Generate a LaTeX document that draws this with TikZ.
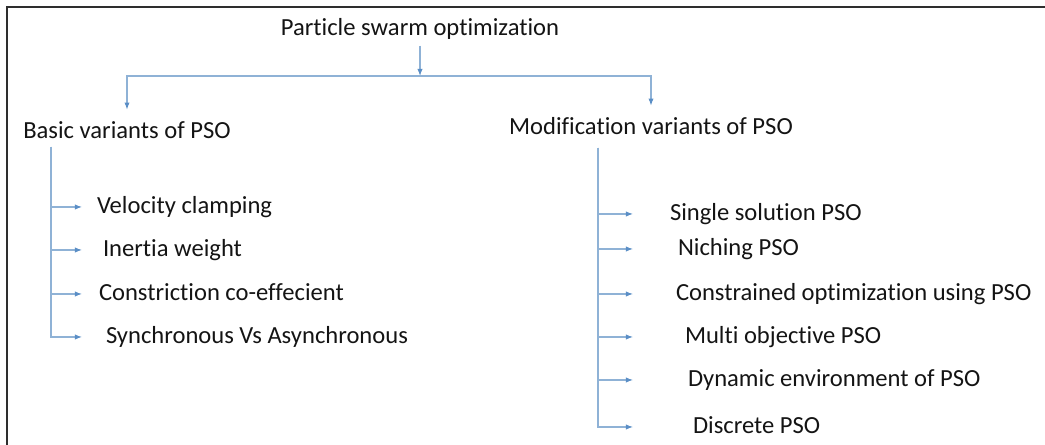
\documentclass[tikz,border=0pt]{standalone}
\usepackage{fontspec}
\setmainfont{Carlito}[Ligatures={NoCommon}]
\usepackage{xcolor}
\usepackage{tikz}
\usetikzlibrary{arrows.meta,positioning}
\definecolor{ink}{HTML}{141414}
\definecolor{wire}{HTML}{8FB2D6}
\definecolor{tipblue}{HTML}{5A8EC6}
\definecolor{frameline}{HTML}{2E2E2E}
\newlength{\pxu}
\setlength{\pxu}{0.02cm}
\tikzset{
  >={Latex[length=4pt,width=3pt,color=tipblue]},
  label/.style={
    text=ink, inner sep=0pt, outer sep=0pt, text height=10pt, text depth=3pt,
    font=\fontsize{14}{17}\selectfont
  },
  head/.style={label, anchor=center},
  item/.style={label, anchor=west},
  flow/.style={->, line width=0.6pt, draw=wire},
  drop/.style={flow, shorten >=0.22cm},
  border/.style={line width=1.1pt, draw=frameline}
}
\newcommand{\lead}[1]{\hspace*{#1\pxu}}

\begin{document}
\begin{tikzpicture}[x=0.02cm,y=-0.02cm]
  \useasboundingbox (0,0) rectangle (1045,445);
  \draw[border] (1045,7) -- (7,7) -- (7,445);

  \node[head] (root)  at (420,29)  {Particle swarm optimization};
  \node[head] (basic) at (127,132) {Basic variants of PSO};
  \node[head] (modif) at (651,128) {Modification variants of PSO};

  \coordinate (split) at (420,76);
  \coordinate (btop)  at (51,147);
  \coordinate (mtop)  at (598,148);

  % basic variants
  \node[item] (b1) at (82,207) {\lead{15}Velocity clamping};
  \node[item] (b2) at (82,250) {\lead{21}Inertia weight};
  \node[item] (b3) at (82,294) {\lead{17}Constriction co-effecient};
  \node[item] (b4) at (82,337) {\lead{24}Synchronous Vs Asynchronous};

  % modification variants
  \node[item] (m1) at (633,214) {\lead{37}Single solution PSO};
  \node[item] (m2) at (633,249) {\lead{45}Niching PSO};
  \node[item] (m3) at (633,294) {\lead{43}Constrained optimization using PSO};
  \node[item] (m4) at (633,337) {\lead{52}Multi objective PSO};
  \node[item] (m5) at (633,380) {\lead{55}Dynamic environment of PSO};
  \node[item] (m6) at (633,427) {\lead{60}Discrete PSO};

  \draw[flow, shorten <=3pt] (root) -- (split);
  \draw[drop] (split) -| (basic);
  \draw[drop] (split) -| (modif);

  \draw[flow] (btop) |- (b1);
  \draw[flow] (btop) |- (b2);
  \draw[flow] (btop) |- (b3);
  \draw[flow] (btop) |- (b4);

  \draw[flow] (mtop) |- (m1);
  \draw[flow] (mtop) |- (m2);
  \draw[flow] (mtop) |- (m3);
  \draw[flow] (mtop) |- (m4);
  \draw[flow] (mtop) |- (m5);
  \draw[flow] (mtop) |- (m6);
\end{tikzpicture}
\end{document}
